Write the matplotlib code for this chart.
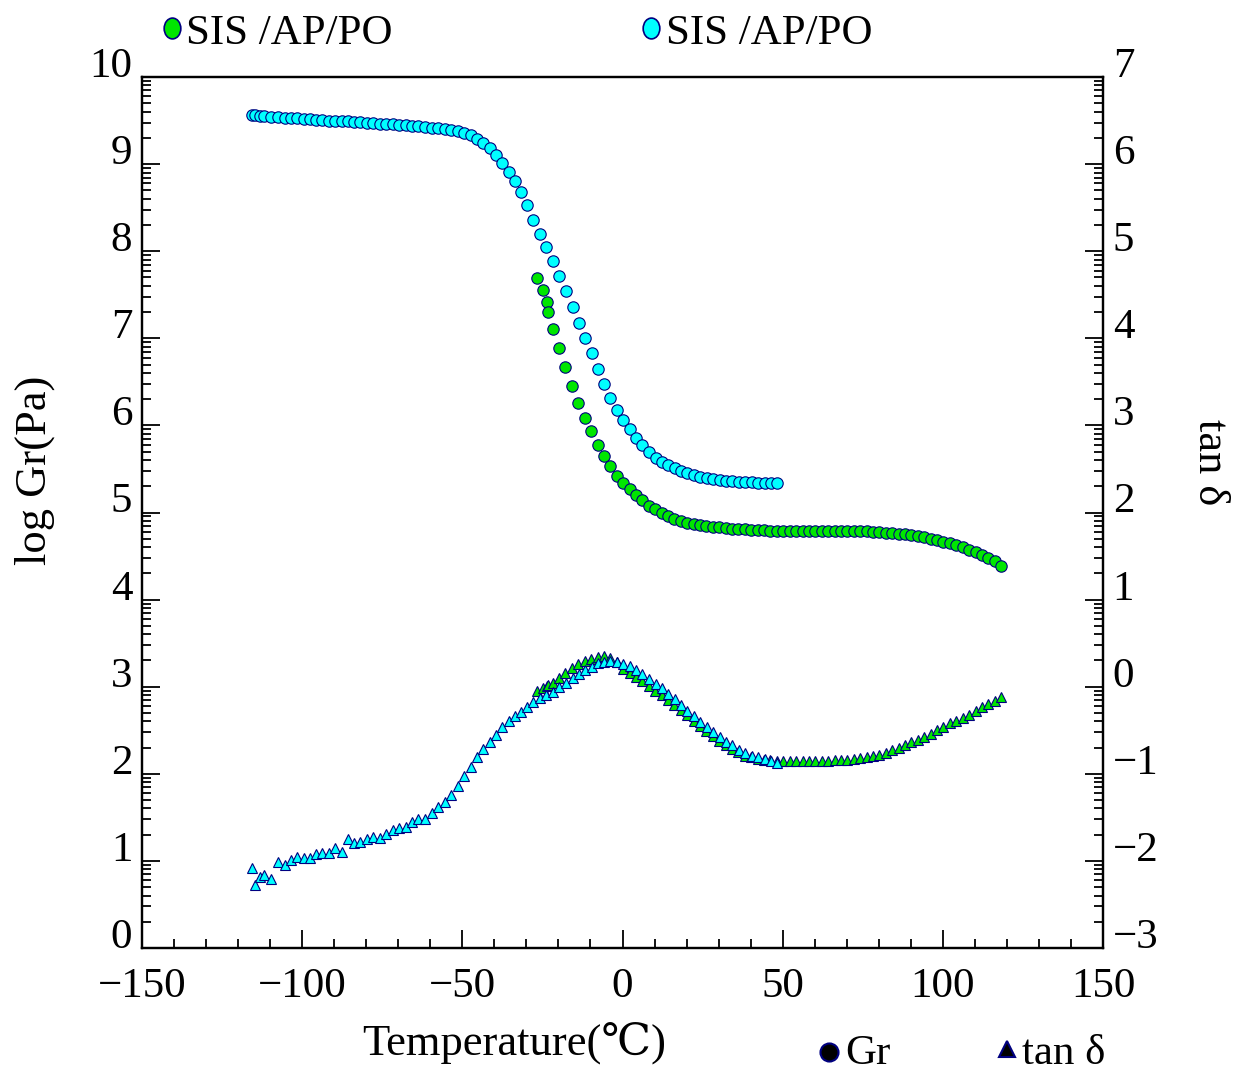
"""Gr and tan delta vs temperature for two SIS/AP/PO samples."""

import matplotlib

matplotlib.use("Agg")
import matplotlib.pyplot as plt
import numpy as np
from matplotlib.lines import Line2D
from matplotlib.path import Path
from matplotlib.ticker import FixedLocator

plt.rcParams["font.family"] = ["Liberation Serif", "DejaVu Serif", "Noto Sans CJK SC"]

# --- data ---------------------------------------------------------------
# cyan sample (temperature grid shared by Gr and tan delta)
cyan_temp = [
    -115.8, -114.6, -113.3, -111.8, -109.7, -107.7, -105.5, -103.5, -101.5, -99.5,
    -97.6, -95.6, -93.7, -91.7, -89.7, -87.7, -85.8, -83.9, -81.9, -79.9,
    -77.9, -75.8, -73.7, -71.7, -69.7, -67.7, -65.7, -63.7, -61.6, -59.6,
    -57.5, -55.5, -53.5, -51.5, -49.4, -47.4, -45.4, -43.4, -41.5, -39.6,
    -37.6, -35.5, -33.6, -31.6, -29.7, -27.8, -25.9, -23.9, -21.8, -19.8,
    -17.7, -15.6, -13.6, -11.6, -9.6, -7.6, -5.8, -3.9, -1.8, 0.2,
    2.2, 4.2, 6.2, 8.3, 10.4, 12.3, 14.3, 16.3, 18.3, 20.2,
    22.2, 24.2, 26.3, 28.3, 30.3, 32.3, 34.3, 36.3, 38.3, 40.3,
    42.3, 44.4, 46.4, 48.3,
]
cyan_log_gr = [
    9.56, 9.56, 9.555, 9.55, 9.545, 9.54, 9.535, 9.53, 9.525, 9.52,
    9.515, 9.51, 9.505, 9.50, 9.50, 9.495, 9.49, 9.485, 9.48, 9.475,
    9.47, 9.465, 9.46, 9.455, 9.45, 9.445, 9.44, 9.435, 9.43, 9.42,
    9.41, 9.40, 9.39, 9.375, 9.355, 9.33, 9.29, 9.245, 9.18, 9.10,
    9.01, 8.91, 8.81, 8.68, 8.53, 8.36, 8.20, 8.05, 7.89, 7.72,
    7.54, 7.36, 7.18, 7.00, 6.83, 6.65, 6.48, 6.31, 6.18, 6.06,
    5.955, 5.86, 5.77, 5.69, 5.63, 5.585, 5.545, 5.51, 5.48, 5.455,
    5.43, 5.41, 5.395, 5.385, 5.375, 5.365, 5.36, 5.355, 5.35, 5.345,
    5.342, 5.34, 5.338, 5.335,
]
cyan_tan = [
    -2.085, -2.277, -2.181, -2.162, -2.211, -2.009, -2.047, -1.990, -1.959, -1.970,
    -1.970, -1.921, -1.906, -1.906, -1.855, -1.894, -1.752, -1.798, -1.780, -1.752,
    -1.722, -1.741, -1.691, -1.645, -1.626, -1.607, -1.550, -1.522, -1.522, -1.453,
    -1.385, -1.320, -1.243, -1.137, -1.025, -0.918, -0.811, -0.715, -0.631, -0.555,
    -0.466, -0.390, -0.336, -0.287, -0.230, -0.172, -0.133, -0.095, -0.057, -0.007,
    0.046, 0.096, 0.142, 0.192, 0.230, 0.269, 0.287, 0.299, 0.287, 0.261,
    0.238, 0.192, 0.142, 0.085, 0.031, -0.018, -0.084, -0.145, -0.210, -0.276,
    -0.336, -0.402, -0.459, -0.517, -0.574, -0.631, -0.673, -0.727, -0.765, -0.796,
    -0.811, -0.834, -0.850, -0.873,
]

# green sample
green_temp = [
    -26.8, -24.9, -23.7, -23.2, -21.8, -19.9, -17.9, -15.9, -13.9, -11.8,
    -9.8, -7.8, -5.8, -3.8, -1.8,
    0.2, 2.2, 4.2, 6.2, 8.2, 10.2, 12.2, 14.2, 16.2, 18.2,
    20.2, 22.2, 24.2, 26.2, 28.2, 30.2, 32.2, 34.2, 36.2, 38.2,
    40.2, 42.2, 44.2, 46.2, 48.2, 50.2, 52.2, 54.2, 56.2, 58.2,
    60.2, 62.2, 64.2, 66.2, 68.2, 70.2, 72.2, 74.2, 76.2, 78.2,
    80.2, 82.2, 84.2, 86.2, 88.2, 90.2, 92.2, 94.2, 96.2, 98.2,
    100.2, 102.2, 104.2, 106.2, 108.2, 110.2, 112.2, 114.2, 116.2, 118.2,
]
green_log_gr = [
    7.69, 7.55, 7.42, 7.30, 7.11, 6.89, 6.67, 6.45, 6.26, 6.08,
    5.94, 5.78, 5.645, 5.53, 5.42,
    5.34, 5.27, 5.20, 5.14, 5.08, 5.035, 4.995, 4.96, 4.93, 4.905,
    4.885, 4.87, 4.855, 4.845, 4.835, 4.828, 4.822, 4.816, 4.81, 4.805,
    4.80, 4.797, 4.795, 4.792, 4.79, 4.79, 4.79, 4.79, 4.79, 4.79,
    4.79, 4.79, 4.792, 4.792, 4.792, 4.79, 4.79, 4.787, 4.784, 4.78,
    4.775, 4.77, 4.765, 4.757, 4.75, 4.74, 4.73, 4.715, 4.70, 4.685,
    4.665, 4.645, 4.625, 4.60, 4.575, 4.55, 4.515, 4.48, 4.44, 4.39,
]
green_tan = [
    -0.05, -0.02, 0.01, 0.02, 0.045, 0.10, 0.155, 0.21, 0.255, 0.29,
    0.32, 0.345, 0.35, 0.33, 0.28,
    0.205, 0.16, 0.115, 0.065, 0.01, -0.045, -0.10, -0.155, -0.21, -0.27,
    -0.33, -0.39, -0.45, -0.51, -0.57, -0.62, -0.67, -0.715, -0.755, -0.79,
    -0.812, -0.828, -0.838, -0.845, -0.848, -0.85, -0.852, -0.853, -0.853, -0.853,
    -0.853, -0.852, -0.85, -0.847, -0.843, -0.837, -0.83, -0.82, -0.81, -0.797,
    -0.782, -0.76, -0.73, -0.70, -0.67, -0.64, -0.61, -0.575, -0.54, -0.50,
    -0.46, -0.42, -0.39, -0.36, -0.32, -0.275, -0.235, -0.20, -0.165, -0.12,
]

sample_label = "SIS /AP/PO"
green = "#00e600"
cyan = "#00ffff"
edge = "#000080"

x_major = [-150, -100, -50, 0, 50, 100, 150]
left_major = list(range(0, 11))
right_major = list(range(-3, 8))

# --- figure --------------------------------------------------------------
W, H = 1233, 1072
fig = plt.figure(figsize=(W / 100, H / 100), dpi=100)
ax = fig.add_axes([142 / W, 1 - 948 / H, (1103 - 142) / W, (948 - 77) / H])
ax2 = ax.twinx()

circle_kw = dict(linestyle="none", marker="o", ms=8.2, mec=edge, mew=0.8)
ax.plot(green_temp, green_log_gr, mfc=green, **circle_kw)
ax.plot(cyan_temp, cyan_log_gr, mfc=cyan, **circle_kw)

tri_kw = dict(linestyle="none", marker="^", ms=7.8, mec=edge, mew=0.8)
ax2.plot(green_temp, green_tan, mfc=green, **tri_kw)
ax2.plot(cyan_temp, cyan_tan, mfc=cyan, **tri_kw)

ax.set_xlim(-150, 150)
ax.set_ylim(0, 10)
ax2.set_ylim(-3, 7)

# log-decade style minor ticks inside each unit
decade_minor = np.log10(np.arange(2, 10))
left_minor = [n + d for n in range(0, 10) for d in decade_minor]
right_minor = [n + d for n in range(-3, 7) for d in decade_minor]

ax.xaxis.set_major_locator(FixedLocator(x_major))
ax.xaxis.set_minor_locator(FixedLocator(list(range(-150, 151, 10))))
ax.yaxis.set_major_locator(FixedLocator(left_major))
ax.yaxis.set_minor_locator(FixedLocator(left_minor))
ax2.yaxis.set_major_locator(FixedLocator(right_major))
ax2.yaxis.set_minor_locator(FixedLocator(right_minor))

ax.tick_params(axis="both", which="both", direction="in", labelsize=31,
               top=False, right=False)
ax.tick_params(axis="both", which="major", length=13, width=1.3)
ax.tick_params(axis="both", which="minor", length=6.5, width=1.3)
ax.tick_params(axis="x", pad=14)
ax.tick_params(axis="y", pad=7)
ax2.tick_params(axis="y", which="both", direction="in", labelsize=31, pad=7)
ax2.tick_params(axis="y", which="major", length=13, width=1.3)
ax2.tick_params(axis="y", which="minor", length=6.5, width=1.3)

for lbl in ax.get_yticklabels() + ax2.get_yticklabels():
    lbl.set_va("baseline")

for a in (ax, ax2):
    for spine in a.spines.values():
        spine.set_linewidth(1.6)

# axis titles
fig.text(35 / W, 1 - 470 / H, "log Gr(Pa)", rotation=90, ha="center", va="center",
         fontsize=32)
fig.text(514 / W, 1 - 1056 / H, "Temperature(℃)", ha="center", va="baseline",
         fontsize=32)
fig.text(1210 / W, 1 - 462 / H, "tan δ", rotation=270, ha="center", va="center",
         fontsize=32)

# top legend: sample colours
ellipse = Path.unit_circle()
ellipse = Path(ellipse.vertices * [0.8, 1.0], ellipse.codes)
for cx, tx, color in [(172, 186, green), (651, 666, cyan)]:
    fig.add_artist(Line2D([cx / W], [1 - 28 / H], transform=fig.transFigure,
                          marker=ellipse, ms=15, mfc=color, mec=edge, mew=1.2,
                          linestyle="none"))
    fig.text(tx / W, 1 - 44 / H, sample_label, ha="left", va="baseline", fontsize=31)

# bottom legend: marker meaning
fig.add_artist(Line2D([829 / W], [1 - 1052 / H], transform=fig.transFigure,
                      marker="o", ms=13, mfc="black", mec=edge, mew=1.5,
                      linestyle="none"))
fig.text(845 / W, 1 - 1064 / H, "Gr", ha="left", va="baseline", fontsize=31)
fig.add_artist(Line2D([1007 / W], [1 - 1049 / H], transform=fig.transFigure,
                      marker="^", ms=12, mfc="black", mec=edge, mew=1.5,
                      linestyle="none"))
fig.text(1022 / W, 1 - 1064 / H, "tan δ", ha="left", va="baseline", fontsize=31)

fig.savefig("out.png", dpi=100)
plt.close(fig)
